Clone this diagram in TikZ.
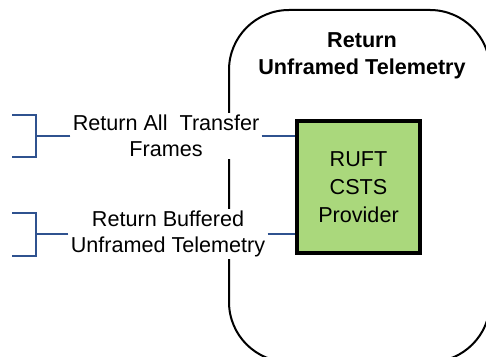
\documentclass[tikz,border=0pt]{standalone}
\usepackage{fontspec}
\setmainfont{Liberation Sans}
\usetikzlibrary{positioning}
\definecolor{ruftgreen}{RGB}{170,216,124}
\definecolor{linkblue}{RGB}{47,82,143}
\tikzset{
  iflabel/.style={fill=white, inner sep=1pt, align=center,
    font=\fontsize{10.8}{13}\selectfont},
  link/.style={linkblue, line width=1pt},
}
\begin{document}
\begin{tikzpicture}[x=0.5pt, y=-0.5pt]
    \useasboundingbox (0,0) rectangle (486,357);
    \clip (0,0) rectangle (486,357);
    % service region
    \draw[line width=1pt, rounded corners=30pt] (229,10) rectangle (490,362);
    \node[align=center, font=\fontsize{10.8}{13.5}\selectfont\bfseries] (title) at (362,56) {Return\\Unframed Telemetry};
    \node[draw, line width=2pt, fill=ruftgreen, minimum width=61.5pt, minimum height=66pt,
          align=center, font=\fontsize{10.8}{14}\selectfont] (prov) at (358.5,187) {RUFT\\CSTS\\Provider};
    % interfaces
    \node[iflabel] (raf) at (166,136) {Return All\ \ Transfer\\Frames};
    \node[iflabel] (rbuf) at (168,234) {Return Buffered\\Unframed Telemetry};
    \coordinate (rafend) at (36,136);
    \coordinate (rbufend) at (36,234);
    \draw[link] (raf.east) -- (prov.west |- raf.east);
    \draw[link] (rbuf.east) -- (prov.west |- rbuf.east);
    \draw[link] (raf.west) -- (rafend);
    \draw[link] (rbuf.west) -- (rbufend);
    \draw[link] (12,115) -- (36,115) -- (36,157) -- (12,157);
    \draw[link] (12,213) -- (36,213) -- (36,256) -- (12,256);
\end{tikzpicture}
\end{document}
